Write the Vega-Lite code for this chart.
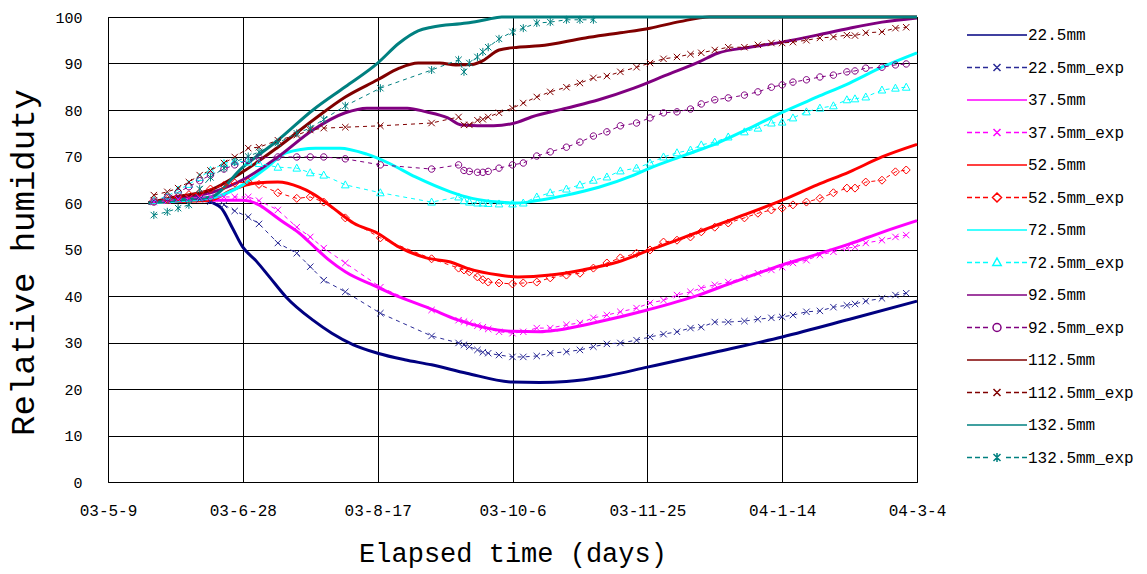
{
  "$schema": "https://vega.github.io/schema/vega-lite/v6.json",
  "width": 809,
  "height": 465,
  "autosize": {"type": "none"},
  "padding": {"left": 108, "top": 17, "right": 230, "bottom": 92},
  "background": "#ffffff",
  "datasets": {
    "model": [
      {"series":"22.5mm","day":15,"rh":60},{"series":"22.5mm","day":25,"rh":60.6},{"series":"22.5mm","day":35,"rh":60.6},{"series":"22.5mm","day":39,"rh":60},{"series":"22.5mm","day":42,"rh":58.9},{"series":"22.5mm","day":46,"rh":54.8},{"series":"22.5mm","day":50,"rh":50.5},{"series":"22.5mm","day":55,"rh":47.5},{"series":"22.5mm","day":60,"rh":44},{"series":"22.5mm","day":66,"rh":39.8},{"series":"22.5mm","day":76,"rh":34.8},{"series":"22.5mm","day":83,"rh":32},{"series":"22.5mm","day":91,"rh":29.5},{"series":"22.5mm","day":100,"rh":27.7},{"series":"22.5mm","day":110,"rh":26.3},{"series":"22.5mm","day":120,"rh":25.2},{"series":"22.5mm","day":133,"rh":23.4},{"series":"22.5mm","day":150,"rh":21.5},{"series":"22.5mm","day":160,"rh":21.4},{"series":"22.5mm","day":170,"rh":21.6},{"series":"22.5mm","day":185,"rh":22.8},{"series":"22.5mm","day":200,"rh":24.7},{"series":"22.5mm","day":225,"rh":27.9},{"series":"22.5mm","day":250,"rh":31.2},{"series":"22.5mm","day":275,"rh":35},{"series":"22.5mm","day":300,"rh":38.9},
      {"series":"37.5mm","day":15,"rh":60},{"series":"37.5mm","day":25,"rh":60.4},{"series":"37.5mm","day":38,"rh":60.6},{"series":"37.5mm","day":50,"rh":60.6},{"series":"37.5mm","day":56,"rh":59.6},{"series":"37.5mm","day":60,"rh":58},{"series":"37.5mm","day":64,"rh":56.3},{"series":"37.5mm","day":71,"rh":53.5},{"series":"37.5mm","day":77,"rh":50.3},{"series":"37.5mm","day":82,"rh":47.7},{"series":"37.5mm","day":88,"rh":45.2},{"series":"37.5mm","day":100,"rh":41.9},{"series":"37.5mm","day":108,"rh":39.8},{"series":"37.5mm","day":119,"rh":37.4},{"series":"37.5mm","day":130,"rh":34.8},{"series":"37.5mm","day":139,"rh":33.3},{"series":"37.5mm","day":150,"rh":32.4},{"series":"37.5mm","day":160,"rh":32.3},{"series":"37.5mm","day":167,"rh":32.7},{"series":"37.5mm","day":180,"rh":34.2},{"series":"37.5mm","day":200,"rh":37},{"series":"37.5mm","day":219,"rh":40.2},{"series":"37.5mm","day":232,"rh":43},{"series":"37.5mm","day":250,"rh":46.7},{"series":"37.5mm","day":262,"rh":48.8},{"series":"37.5mm","day":275,"rh":51.2},{"series":"37.5mm","day":287,"rh":53.7},{"series":"37.5mm","day":300,"rh":56.2},
      {"series":"52.5mm","day":15,"rh":60},{"series":"52.5mm","day":25,"rh":60.3},{"series":"52.5mm","day":38,"rh":60.6},{"series":"52.5mm","day":46,"rh":62.8},{"series":"52.5mm","day":55,"rh":64.3},{"series":"52.5mm","day":63,"rh":64.5},{"series":"52.5mm","day":71,"rh":63.4},{"series":"52.5mm","day":76,"rh":62},{"series":"52.5mm","day":81,"rh":60},{"series":"52.5mm","day":86,"rh":57.8},{"series":"52.5mm","day":91,"rh":55.7},{"series":"52.5mm","day":100,"rh":53.5},{"series":"52.5mm","day":108,"rh":50.5},{"series":"52.5mm","day":118,"rh":48.2},{"series":"52.5mm","day":127,"rh":47.3},{"series":"52.5mm","day":133,"rh":46},{"series":"52.5mm","day":145,"rh":44.5},{"series":"52.5mm","day":152,"rh":44.1},{"series":"52.5mm","day":164,"rh":44.5},{"series":"52.5mm","day":176,"rh":45.6},{"series":"52.5mm","day":189,"rh":47.3},{"series":"52.5mm","day":201,"rh":49.9},{"series":"52.5mm","day":210,"rh":51.8},{"series":"52.5mm","day":219,"rh":53.8},{"series":"52.5mm","day":232,"rh":56.6},{"series":"52.5mm","day":250,"rh":60.6},{"series":"52.5mm","day":263,"rh":63.9},{"series":"52.5mm","day":275,"rh":66.7},{"series":"52.5mm","day":287,"rh":69.9},{"series":"52.5mm","day":300,"rh":72.6},
      {"series":"72.5mm","day":15,"rh":60},{"series":"72.5mm","day":25,"rh":60.4},{"series":"72.5mm","day":38,"rh":61},{"series":"72.5mm","day":50,"rh":63.9},{"series":"72.5mm","day":59,"rh":67.7},{"series":"72.5mm","day":66,"rh":70.8},{"series":"72.5mm","day":77,"rh":71.8},{"series":"72.5mm","day":86,"rh":71.8},{"series":"72.5mm","day":96,"rh":70.5},{"series":"72.5mm","day":104,"rh":68.6},{"series":"72.5mm","day":114,"rh":65.6},{"series":"72.5mm","day":127,"rh":62.4},{"series":"72.5mm","day":135,"rh":61},{"series":"72.5mm","day":145,"rh":60.2},{"series":"72.5mm","day":152,"rh":60},{"series":"72.5mm","day":160,"rh":60.6},{"series":"72.5mm","day":170,"rh":61.7},{"series":"72.5mm","day":182,"rh":63.4},{"series":"72.5mm","day":195,"rh":66},{"series":"72.5mm","day":201,"rh":67.5},{"series":"72.5mm","day":214,"rh":70.3},{"series":"72.5mm","day":226,"rh":72.9},{"series":"72.5mm","day":238,"rh":76.1},{"series":"72.5mm","day":250,"rh":79.5},{"series":"72.5mm","day":263,"rh":82.8},{"series":"72.5mm","day":275,"rh":85.8},{"series":"72.5mm","day":287,"rh":89.2},{"series":"72.5mm","day":300,"rh":92.3},
      {"series":"92.5mm","day":15,"rh":60},{"series":"92.5mm","day":25,"rh":61},{"series":"92.5mm","day":38,"rh":62.2},{"series":"92.5mm","day":50,"rh":65},{"series":"92.5mm","day":63,"rh":69.9},{"series":"92.5mm","day":76,"rh":75.7},{"series":"92.5mm","day":88,"rh":79.4},{"series":"92.5mm","day":96,"rh":80.4},{"series":"92.5mm","day":111,"rh":80.4},{"series":"92.5mm","day":118,"rh":79.6},{"series":"92.5mm","day":126,"rh":78.3},{"series":"92.5mm","day":131,"rh":76.8},{"series":"92.5mm","day":143,"rh":76.6},{"series":"92.5mm","day":152,"rh":77.4},{"series":"92.5mm","day":157,"rh":78.5},{"series":"92.5mm","day":170,"rh":80.4},{"series":"92.5mm","day":182,"rh":82.2},{"series":"92.5mm","day":195,"rh":84.7},{"series":"92.5mm","day":207,"rh":87.5},{"series":"92.5mm","day":219,"rh":90.3},{"series":"92.5mm","day":226,"rh":92.2},{"series":"92.5mm","day":238,"rh":93.5},{"series":"92.5mm","day":250,"rh":94.6},{"series":"92.5mm","day":263,"rh":96.1},{"series":"92.5mm","day":275,"rh":97.6},{"series":"92.5mm","day":287,"rh":98.9},{"series":"92.5mm","day":300,"rh":99.8},
      {"series":"112.5mm","day":15,"rh":60},{"series":"112.5mm","day":25,"rh":61.3},{"series":"112.5mm","day":38,"rh":62.8},{"series":"112.5mm","day":50,"rh":66.7},{"series":"112.5mm","day":63,"rh":72},{"series":"112.5mm","day":76,"rh":77.8},{"series":"112.5mm","day":88,"rh":82.8},{"series":"112.5mm","day":100,"rh":86.5},{"series":"112.5mm","day":108,"rh":89},{"series":"112.5mm","day":115,"rh":90.1},{"series":"112.5mm","day":123,"rh":90.1},{"series":"112.5mm","day":129,"rh":89.7},{"series":"112.5mm","day":135,"rh":89.8},{"series":"112.5mm","day":139,"rh":90.6},{"series":"112.5mm","day":145,"rh":92.9},{"series":"112.5mm","day":152,"rh":93.5},{"series":"112.5mm","day":160,"rh":93.8},{"series":"112.5mm","day":177,"rh":95.5},{"series":"112.5mm","day":190,"rh":96.6},{"series":"112.5mm","day":201,"rh":97.6},{"series":"112.5mm","day":212,"rh":99},{"series":"112.5mm","day":223,"rh":100},{"series":"112.5mm","day":300,"rh":100},
      {"series":"132.5mm","day":15,"rh":60},{"series":"132.5mm","day":25,"rh":60.6},{"series":"132.5mm","day":38,"rh":61.3},{"series":"132.5mm","day":50,"rh":67.7},{"series":"132.5mm","day":63,"rh":73.5},{"series":"132.5mm","day":76,"rh":80},{"series":"132.5mm","day":88,"rh":85},{"series":"132.5mm","day":100,"rh":90.1},{"series":"132.5mm","day":108,"rh":94.4},{"series":"132.5mm","day":115,"rh":97},{"series":"132.5mm","day":120,"rh":97.8},{"series":"132.5mm","day":133,"rh":98.7},{"series":"132.5mm","day":140,"rh":99.4},{"series":"132.5mm","day":146,"rh":100},{"series":"132.5mm","day":300,"rh":100}
    ],
    "exp": [
      {"series":"22.5mm_exp","day":17,"rh":60.5},{"series":"22.5mm_exp","day":22,"rh":60.8},{"series":"22.5mm_exp","day":26,"rh":61},{"series":"22.5mm_exp","day":30,"rh":61},{"series":"22.5mm_exp","day":34,"rh":60.8},{"series":"22.5mm_exp","day":38,"rh":60.3},{"series":"22.5mm_exp","day":43,"rh":59.6},{"series":"22.5mm_exp","day":47,"rh":58.3},{"series":"22.5mm_exp","day":52,"rh":57},{"series":"22.5mm_exp","day":56,"rh":55.5},{"series":"22.5mm_exp","day":63,"rh":51.4},{"series":"22.5mm_exp","day":70,"rh":49.2},{"series":"22.5mm_exp","day":75,"rh":46.3},{"series":"22.5mm_exp","day":80,"rh":43.4},{"series":"22.5mm_exp","day":88,"rh":40.9},{"series":"22.5mm_exp","day":101,"rh":36.3},{"series":"22.5mm_exp","day":120,"rh":31.4},{"series":"22.5mm_exp","day":130,"rh":29.9},{"series":"22.5mm_exp","day":132,"rh":29.5},{"series":"22.5mm_exp","day":134,"rh":29.1},{"series":"22.5mm_exp","day":137,"rh":28.4},{"series":"22.5mm_exp","day":139,"rh":27.9},{"series":"22.5mm_exp","day":141,"rh":27.7},{"series":"22.5mm_exp","day":145,"rh":27.3},{"series":"22.5mm_exp","day":150,"rh":26.9},{"series":"22.5mm_exp","day":154,"rh":26.9},{"series":"22.5mm_exp","day":159,"rh":27.1},{"series":"22.5mm_exp","day":164,"rh":27.7},{"series":"22.5mm_exp","day":170,"rh":28},{"series":"22.5mm_exp","day":175,"rh":28.4},{"series":"22.5mm_exp","day":180,"rh":29.1},{"series":"22.5mm_exp","day":185,"rh":29.7},{"series":"22.5mm_exp","day":190,"rh":29.9},{"series":"22.5mm_exp","day":196,"rh":30.5},{"series":"22.5mm_exp","day":201,"rh":31.2},{"series":"22.5mm_exp","day":206,"rh":31.8},{"series":"22.5mm_exp","day":211,"rh":32.3},{"series":"22.5mm_exp","day":216,"rh":33.1},{"series":"22.5mm_exp","day":220,"rh":33.3},{"series":"22.5mm_exp","day":225,"rh":34.4},{"series":"22.5mm_exp","day":230,"rh":34.4},{"series":"22.5mm_exp","day":236,"rh":34.6},{"series":"22.5mm_exp","day":241,"rh":35},{"series":"22.5mm_exp","day":246,"rh":35.3},{"series":"22.5mm_exp","day":250,"rh":35.5},{"series":"22.5mm_exp","day":254,"rh":35.9},{"series":"22.5mm_exp","day":259,"rh":36.6},{"series":"22.5mm_exp","day":264,"rh":36.8},{"series":"22.5mm_exp","day":269,"rh":37.6},{"series":"22.5mm_exp","day":274,"rh":38},{"series":"22.5mm_exp","day":277,"rh":38.3},{"series":"22.5mm_exp","day":281,"rh":38.9},{"series":"22.5mm_exp","day":287,"rh":39.5},{"series":"22.5mm_exp","day":292,"rh":40.2},{"series":"22.5mm_exp","day":296,"rh":40.6},
      {"series":"37.5mm_exp","day":17,"rh":60.2},{"series":"37.5mm_exp","day":22,"rh":60.5},{"series":"37.5mm_exp","day":26,"rh":60.8},{"series":"37.5mm_exp","day":30,"rh":61},{"series":"37.5mm_exp","day":34,"rh":61.2},{"series":"37.5mm_exp","day":38,"rh":61.3},{"series":"37.5mm_exp","day":43,"rh":61.3},{"series":"37.5mm_exp","day":47,"rh":61.3},{"series":"37.5mm_exp","day":52,"rh":61.3},{"series":"37.5mm_exp","day":56,"rh":60.5},{"series":"37.5mm_exp","day":63,"rh":58.5},{"series":"37.5mm_exp","day":70,"rh":54.8},{"series":"37.5mm_exp","day":75,"rh":52.7},{"series":"37.5mm_exp","day":80,"rh":50.3},{"series":"37.5mm_exp","day":88,"rh":47.1},{"series":"37.5mm_exp","day":101,"rh":41.9},{"series":"37.5mm_exp","day":120,"rh":37},{"series":"37.5mm_exp","day":130,"rh":34.8},{"series":"37.5mm_exp","day":132,"rh":34.5},{"series":"37.5mm_exp","day":134,"rh":34.2},{"series":"37.5mm_exp","day":137,"rh":33.6},{"series":"37.5mm_exp","day":139,"rh":33.3},{"series":"37.5mm_exp","day":141,"rh":32.9},{"series":"37.5mm_exp","day":145,"rh":32.3},{"series":"37.5mm_exp","day":150,"rh":32},{"series":"37.5mm_exp","day":154,"rh":32.3},{"series":"37.5mm_exp","day":159,"rh":33.1},{"series":"37.5mm_exp","day":164,"rh":33.1},{"series":"37.5mm_exp","day":170,"rh":33.8},{"series":"37.5mm_exp","day":175,"rh":34.2},{"series":"37.5mm_exp","day":180,"rh":35.3},{"series":"37.5mm_exp","day":185,"rh":35.9},{"series":"37.5mm_exp","day":190,"rh":36.6},{"series":"37.5mm_exp","day":196,"rh":37.4},{"series":"37.5mm_exp","day":201,"rh":38.5},{"series":"37.5mm_exp","day":206,"rh":39.1},{"series":"37.5mm_exp","day":211,"rh":40.2},{"series":"37.5mm_exp","day":216,"rh":40.9},{"series":"37.5mm_exp","day":220,"rh":41.7},{"series":"37.5mm_exp","day":225,"rh":42.4},{"series":"37.5mm_exp","day":230,"rh":43},{"series":"37.5mm_exp","day":236,"rh":43.9},{"series":"37.5mm_exp","day":241,"rh":44.9},{"series":"37.5mm_exp","day":246,"rh":45.6},{"series":"37.5mm_exp","day":250,"rh":46.2},{"series":"37.5mm_exp","day":254,"rh":47.1},{"series":"37.5mm_exp","day":259,"rh":47.7},{"series":"37.5mm_exp","day":264,"rh":48.8},{"series":"37.5mm_exp","day":269,"rh":49.5},{"series":"37.5mm_exp","day":274,"rh":50.3},{"series":"37.5mm_exp","day":277,"rh":50.5},{"series":"37.5mm_exp","day":281,"rh":51.4},{"series":"37.5mm_exp","day":287,"rh":52},{"series":"37.5mm_exp","day":292,"rh":52.7},{"series":"37.5mm_exp","day":296,"rh":53.1},
      {"series":"52.5mm_exp","day":17,"rh":60.5},{"series":"52.5mm_exp","day":22,"rh":60.8},{"series":"52.5mm_exp","day":26,"rh":61.3},{"series":"52.5mm_exp","day":30,"rh":61.8},{"series":"52.5mm_exp","day":34,"rh":62.2},{"series":"52.5mm_exp","day":38,"rh":63},{"series":"52.5mm_exp","day":43,"rh":63.8},{"series":"52.5mm_exp","day":47,"rh":64.3},{"series":"52.5mm_exp","day":52,"rh":64.5},{"series":"52.5mm_exp","day":56,"rh":64},{"series":"52.5mm_exp","day":63,"rh":62.2},{"series":"52.5mm_exp","day":70,"rh":61},{"series":"52.5mm_exp","day":75,"rh":61.3},{"series":"52.5mm_exp","day":80,"rh":60.2},{"series":"52.5mm_exp","day":88,"rh":56.8},{"series":"52.5mm_exp","day":101,"rh":52.5},{"series":"52.5mm_exp","day":120,"rh":48},{"series":"52.5mm_exp","day":130,"rh":46},{"series":"52.5mm_exp","day":132,"rh":45.6},{"series":"52.5mm_exp","day":134,"rh":45.2},{"series":"52.5mm_exp","day":137,"rh":44.1},{"series":"52.5mm_exp","day":139,"rh":43.5},{"series":"52.5mm_exp","day":141,"rh":43},{"series":"52.5mm_exp","day":145,"rh":42.8},{"series":"52.5mm_exp","day":150,"rh":42.6},{"series":"52.5mm_exp","day":154,"rh":42.8},{"series":"52.5mm_exp","day":159,"rh":43},{"series":"52.5mm_exp","day":164,"rh":43.9},{"series":"52.5mm_exp","day":170,"rh":44.5},{"series":"52.5mm_exp","day":175,"rh":44.9},{"series":"52.5mm_exp","day":180,"rh":46},{"series":"52.5mm_exp","day":185,"rh":47.1},{"series":"52.5mm_exp","day":190,"rh":48.2},{"series":"52.5mm_exp","day":196,"rh":49.2},{"series":"52.5mm_exp","day":201,"rh":49.9},{"series":"52.5mm_exp","day":206,"rh":51.6},{"series":"52.5mm_exp","day":211,"rh":52},{"series":"52.5mm_exp","day":216,"rh":52.7},{"series":"52.5mm_exp","day":220,"rh":53.8},{"series":"52.5mm_exp","day":225,"rh":54.8},{"series":"52.5mm_exp","day":230,"rh":55.7},{"series":"52.5mm_exp","day":236,"rh":56.8},{"series":"52.5mm_exp","day":241,"rh":57.8},{"series":"52.5mm_exp","day":246,"rh":58.5},{"series":"52.5mm_exp","day":250,"rh":58.9},{"series":"52.5mm_exp","day":254,"rh":59.6},{"series":"52.5mm_exp","day":259,"rh":60.2},{"series":"52.5mm_exp","day":264,"rh":61},{"series":"52.5mm_exp","day":269,"rh":62.2},{"series":"52.5mm_exp","day":274,"rh":63.2},{"series":"52.5mm_exp","day":277,"rh":63.2},{"series":"52.5mm_exp","day":281,"rh":64.5},{"series":"52.5mm_exp","day":287,"rh":64.9},{"series":"52.5mm_exp","day":292,"rh":66.7},{"series":"52.5mm_exp","day":296,"rh":67.1},
      {"series":"72.5mm_exp","day":17,"rh":60.5},{"series":"72.5mm_exp","day":22,"rh":61.5},{"series":"72.5mm_exp","day":26,"rh":62.8},{"series":"72.5mm_exp","day":30,"rh":64},{"series":"72.5mm_exp","day":34,"rh":65.5},{"series":"72.5mm_exp","day":38,"rh":67},{"series":"72.5mm_exp","day":43,"rh":68.5},{"series":"72.5mm_exp","day":47,"rh":69},{"series":"72.5mm_exp","day":52,"rh":68.8},{"series":"72.5mm_exp","day":56,"rh":68.5},{"series":"72.5mm_exp","day":63,"rh":67.7},{"series":"72.5mm_exp","day":70,"rh":67.5},{"series":"72.5mm_exp","day":75,"rh":66.5},{"series":"72.5mm_exp","day":80,"rh":66},{"series":"72.5mm_exp","day":88,"rh":63.9},{"series":"72.5mm_exp","day":101,"rh":62.2},{"series":"72.5mm_exp","day":120,"rh":60.2},{"series":"72.5mm_exp","day":130,"rh":61.3},{"series":"72.5mm_exp","day":132,"rh":60.5},{"series":"72.5mm_exp","day":134,"rh":60.2},{"series":"72.5mm_exp","day":137,"rh":60},{"series":"72.5mm_exp","day":139,"rh":60},{"series":"72.5mm_exp","day":141,"rh":59.9},{"series":"72.5mm_exp","day":145,"rh":59.8},{"series":"72.5mm_exp","day":150,"rh":59.8},{"series":"72.5mm_exp","day":154,"rh":60},{"series":"72.5mm_exp","day":159,"rh":61.3},{"series":"72.5mm_exp","day":164,"rh":62.2},{"series":"72.5mm_exp","day":170,"rh":63},{"series":"72.5mm_exp","day":175,"rh":63.9},{"series":"72.5mm_exp","day":180,"rh":64.9},{"series":"72.5mm_exp","day":185,"rh":65.6},{"series":"72.5mm_exp","day":190,"rh":66.9},{"series":"72.5mm_exp","day":196,"rh":67.5},{"series":"72.5mm_exp","day":201,"rh":68.6},{"series":"72.5mm_exp","day":206,"rh":69.9},{"series":"72.5mm_exp","day":211,"rh":70.8},{"series":"72.5mm_exp","day":216,"rh":71.4},{"series":"72.5mm_exp","day":220,"rh":72.5},{"series":"72.5mm_exp","day":225,"rh":73.1},{"series":"72.5mm_exp","day":230,"rh":74.2},{"series":"72.5mm_exp","day":236,"rh":75.3},{"series":"72.5mm_exp","day":241,"rh":76.1},{"series":"72.5mm_exp","day":246,"rh":77.2},{"series":"72.5mm_exp","day":250,"rh":77.4},{"series":"72.5mm_exp","day":254,"rh":78.3},{"series":"72.5mm_exp","day":259,"rh":79.6},{"series":"72.5mm_exp","day":264,"rh":80.4},{"series":"72.5mm_exp","day":269,"rh":80.9},{"series":"72.5mm_exp","day":274,"rh":82.2},{"series":"72.5mm_exp","day":277,"rh":82.4},{"series":"72.5mm_exp","day":281,"rh":82.8},{"series":"72.5mm_exp","day":287,"rh":84.3},{"series":"72.5mm_exp","day":292,"rh":84.7},{"series":"72.5mm_exp","day":296,"rh":84.9},
      {"series":"92.5mm_exp","day":17,"rh":60.2},{"series":"92.5mm_exp","day":22,"rh":61.2},{"series":"92.5mm_exp","day":26,"rh":62.3},{"series":"92.5mm_exp","day":30,"rh":63.5},{"series":"92.5mm_exp","day":34,"rh":64.8},{"series":"92.5mm_exp","day":38,"rh":66},{"series":"92.5mm_exp","day":43,"rh":67.3},{"series":"92.5mm_exp","day":47,"rh":68.2},{"series":"92.5mm_exp","day":52,"rh":69.2},{"series":"92.5mm_exp","day":56,"rh":69.7},{"series":"92.5mm_exp","day":63,"rh":69.9},{"series":"92.5mm_exp","day":70,"rh":69.9},{"series":"92.5mm_exp","day":75,"rh":69.9},{"series":"92.5mm_exp","day":80,"rh":69.9},{"series":"92.5mm_exp","day":88,"rh":69.5},{"series":"92.5mm_exp","day":101,"rh":68.2},{"series":"92.5mm_exp","day":120,"rh":67.3},{"series":"92.5mm_exp","day":130,"rh":68.2},{"series":"92.5mm_exp","day":132,"rh":67},{"series":"92.5mm_exp","day":134,"rh":66.8},{"series":"92.5mm_exp","day":137,"rh":66.6},{"series":"92.5mm_exp","day":139,"rh":66.6},{"series":"92.5mm_exp","day":141,"rh":66.8},{"series":"92.5mm_exp","day":145,"rh":67.5},{"series":"92.5mm_exp","day":150,"rh":68.2},{"series":"92.5mm_exp","day":154,"rh":68.6},{"series":"92.5mm_exp","day":159,"rh":70.1},{"series":"92.5mm_exp","day":164,"rh":71},{"series":"92.5mm_exp","day":170,"rh":72},{"series":"92.5mm_exp","day":175,"rh":73.1},{"series":"92.5mm_exp","day":180,"rh":74.4},{"series":"92.5mm_exp","day":185,"rh":75.3},{"series":"92.5mm_exp","day":190,"rh":76.6},{"series":"92.5mm_exp","day":196,"rh":77.2},{"series":"92.5mm_exp","day":201,"rh":78.3},{"series":"92.5mm_exp","day":206,"rh":79.4},{"series":"92.5mm_exp","day":211,"rh":79.6},{"series":"92.5mm_exp","day":216,"rh":80.2},{"series":"92.5mm_exp","day":220,"rh":81.3},{"series":"92.5mm_exp","day":225,"rh":82.2},{"series":"92.5mm_exp","day":230,"rh":82.6},{"series":"92.5mm_exp","day":236,"rh":83.2},{"series":"92.5mm_exp","day":241,"rh":83.9},{"series":"92.5mm_exp","day":246,"rh":84.9},{"series":"92.5mm_exp","day":250,"rh":85.4},{"series":"92.5mm_exp","day":254,"rh":86},{"series":"92.5mm_exp","day":259,"rh":86.5},{"series":"92.5mm_exp","day":264,"rh":87.1},{"series":"92.5mm_exp","day":269,"rh":87.5},{"series":"92.5mm_exp","day":274,"rh":88.2},{"series":"92.5mm_exp","day":277,"rh":88.4},{"series":"92.5mm_exp","day":281,"rh":89},{"series":"92.5mm_exp","day":287,"rh":89.2},{"series":"92.5mm_exp","day":292,"rh":89.7},{"series":"92.5mm_exp","day":296,"rh":89.9},
      {"series":"112.5mm_exp","day":17,"rh":61.7},{"series":"112.5mm_exp","day":22,"rh":62.4},{"series":"112.5mm_exp","day":26,"rh":63.2},{"series":"112.5mm_exp","day":30,"rh":64.5},{"series":"112.5mm_exp","day":34,"rh":66},{"series":"112.5mm_exp","day":38,"rh":67},{"series":"112.5mm_exp","day":43,"rh":68.6},{"series":"112.5mm_exp","day":47,"rh":69.9},{"series":"112.5mm_exp","day":52,"rh":71.8},{"series":"112.5mm_exp","day":56,"rh":72},{"series":"112.5mm_exp","day":63,"rh":73.5},{"series":"112.5mm_exp","day":70,"rh":74.6},{"series":"112.5mm_exp","day":75,"rh":75.7},{"series":"112.5mm_exp","day":80,"rh":76.1},{"series":"112.5mm_exp","day":88,"rh":76.3},{"series":"112.5mm_exp","day":101,"rh":76.6},{"series":"112.5mm_exp","day":120,"rh":77.2},{"series":"112.5mm_exp","day":130,"rh":78.5},{"series":"112.5mm_exp","day":132,"rh":76.8},{"series":"112.5mm_exp","day":134,"rh":76.8},{"series":"112.5mm_exp","day":137,"rh":77.8},{"series":"112.5mm_exp","day":139,"rh":78},{"series":"112.5mm_exp","day":141,"rh":78.5},{"series":"112.5mm_exp","day":145,"rh":79.4},{"series":"112.5mm_exp","day":150,"rh":80.4},{"series":"112.5mm_exp","day":154,"rh":81.5},{"series":"112.5mm_exp","day":159,"rh":82.8},{"series":"112.5mm_exp","day":164,"rh":83.9},{"series":"112.5mm_exp","day":170,"rh":84.9},{"series":"112.5mm_exp","day":175,"rh":85.8},{"series":"112.5mm_exp","day":180,"rh":86.9},{"series":"112.5mm_exp","day":185,"rh":87.3},{"series":"112.5mm_exp","day":190,"rh":88.2},{"series":"112.5mm_exp","day":196,"rh":89.2},{"series":"112.5mm_exp","day":201,"rh":90.1},{"series":"112.5mm_exp","day":206,"rh":91},{"series":"112.5mm_exp","day":211,"rh":91.4},{"series":"112.5mm_exp","day":216,"rh":92},{"series":"112.5mm_exp","day":220,"rh":92.3},{"series":"112.5mm_exp","day":225,"rh":92.9},{"series":"112.5mm_exp","day":230,"rh":93.5},{"series":"112.5mm_exp","day":236,"rh":93.5},{"series":"112.5mm_exp","day":241,"rh":94},{"series":"112.5mm_exp","day":246,"rh":94.4},{"series":"112.5mm_exp","day":250,"rh":94.4},{"series":"112.5mm_exp","day":254,"rh":94.6},{"series":"112.5mm_exp","day":259,"rh":95},{"series":"112.5mm_exp","day":264,"rh":95.5},{"series":"112.5mm_exp","day":269,"rh":95.7},{"series":"112.5mm_exp","day":274,"rh":96.1},{"series":"112.5mm_exp","day":277,"rh":96},{"series":"112.5mm_exp","day":281,"rh":96.6},{"series":"112.5mm_exp","day":287,"rh":96.8},{"series":"112.5mm_exp","day":292,"rh":97.6},{"series":"112.5mm_exp","day":296,"rh":97.8},
      {"series":"132.5mm_exp","day":17,"rh":57.4},{"series":"132.5mm_exp","day":22,"rh":58.1},{"series":"132.5mm_exp","day":26,"rh":58.9},{"series":"132.5mm_exp","day":30,"rh":59.6},{"series":"132.5mm_exp","day":34,"rh":63},{"series":"132.5mm_exp","day":38,"rh":65.5},{"series":"132.5mm_exp","day":43,"rh":67.5},{"series":"132.5mm_exp","day":47,"rh":68.8},{"series":"132.5mm_exp","day":52,"rh":70},{"series":"132.5mm_exp","day":56,"rh":71},{"series":"132.5mm_exp","day":63,"rh":72.9},{"series":"132.5mm_exp","day":70,"rh":75},{"series":"132.5mm_exp","day":75,"rh":76.1},{"series":"132.5mm_exp","day":80,"rh":78},{"series":"132.5mm_exp","day":88,"rh":80.9},{"series":"132.5mm_exp","day":101,"rh":84.7},{"series":"132.5mm_exp","day":120,"rh":88.6},{"series":"132.5mm_exp","day":130,"rh":90.8},{"series":"132.5mm_exp","day":132,"rh":88.2},{"series":"132.5mm_exp","day":134,"rh":90.1},{"series":"132.5mm_exp","day":137,"rh":91.4},{"series":"132.5mm_exp","day":139,"rh":92.5},{"series":"132.5mm_exp","day":141,"rh":93.5},{"series":"132.5mm_exp","day":145,"rh":95.3},{"series":"132.5mm_exp","day":150,"rh":96.8},{"series":"132.5mm_exp","day":154,"rh":97.6},{"series":"132.5mm_exp","day":159,"rh":98.7},{"series":"132.5mm_exp","day":164,"rh":98.9},{"series":"132.5mm_exp","day":170,"rh":99.4},{"series":"132.5mm_exp","day":175,"rh":99.4},{"series":"132.5mm_exp","day":180,"rh":99.4}
    ]
  },
  "resolve": {"scale": {"color": "independent", "shape": "independent"}},
  "layer": [
    {
      "data": {"name": "model"},
      "mark": {"type": "line", "strokeWidth": 3, "interpolate": "monotone"},
      "encoding": {
        "x": {
          "field": "day", "type": "quantitative",
          "scale": {"domain": [0, 300], "nice": false, "zero": false},
          "axis": {
            "values": [0, 50, 100, 150, 200, 250, 300],
            "labelExpr": "timeFormat(datetime(2003, 4, 9 + datum.value), '%y-%-m-%-d')",
            "title": "Elapsed time (days)",
            "labelFontSize": 16, "labelPadding": 20,
            "titleFontSize": 27, "titlePadding": 22
          }
        },
        "y": {
          "field": "rh", "type": "quantitative",
          "scale": {"domain": [0, 100], "nice": false},
          "axis": {
            "values": [0, 10, 20, 30, 40, 50, 60, 70, 80, 90, 100],
            "title": "Relative humiduty",
            "labelFontSize": 15, "labelPadding": 26,
            "titleFontSize": 34, "titlePadding": 14, "titleY": 245
          }
        },
        "color": {
          "field": "series", "type": "nominal", "legend": null,
          "scale": {
            "domain": ["22.5mm","22.5mm_exp","37.5mm","37.5mm_exp","52.5mm","52.5mm_exp","72.5mm","72.5mm_exp","92.5mm","92.5mm_exp","112.5mm","112.5mm_exp","132.5mm","132.5mm_exp"],
            "range": ["#000080","#2a2a96","#ff00ff","#ff00ff","#ff0000","#ff0000","#00ffff","#00ffff","#800080","#800080","#800000","#800000","#008080","#008080"]
          }
        }
      }
    },
    {
      "data": {"name": "exp"},
      "mark": {"type": "line", "strokeWidth": 1, "strokeDash": [4, 4]},
      "encoding": {
        "x": {"field": "day", "type": "quantitative"},
        "y": {"field": "rh", "type": "quantitative"},
        "color": {
          "field": "series", "type": "nominal", "legend": null,
          "scale": {
            "domain": ["22.5mm","22.5mm_exp","37.5mm","37.5mm_exp","52.5mm","52.5mm_exp","72.5mm","72.5mm_exp","92.5mm","92.5mm_exp","112.5mm","112.5mm_exp","132.5mm","132.5mm_exp"],
            "range": ["#000080","#2a2a96","#ff00ff","#ff00ff","#ff0000","#ff0000","#00ffff","#00ffff","#800080","#800080","#800000","#800000","#008080","#008080"]
          }
        }
      }
    },
    {
      "data": {"name": "exp"},
      "mark": {"type": "point", "filled": false, "size": 64, "strokeWidth": 1, "opacity": 1},
      "encoding": {
        "x": {"field": "day", "type": "quantitative"},
        "y": {"field": "rh", "type": "quantitative"},
        "color": {
          "field": "series", "type": "nominal", "legend": null,
          "scale": {
            "domain": ["22.5mm","22.5mm_exp","37.5mm","37.5mm_exp","52.5mm","52.5mm_exp","72.5mm","72.5mm_exp","92.5mm","92.5mm_exp","112.5mm","112.5mm_exp","132.5mm","132.5mm_exp"],
            "range": ["#000080","#2a2a96","#ff00ff","#ff00ff","#ff0000","#ff0000","#00ffff","#00ffff","#800080","#800080","#800000","#800000","#008080","#008080"]
          }
        },
        "shape": {
          "field": "series", "type": "nominal", "legend": null,
          "scale": {
            "domain": ["22.5mm_exp","37.5mm_exp","52.5mm_exp","72.5mm_exp","92.5mm_exp","112.5mm_exp","132.5mm_exp"],
            "range": [
              "M-0.8,-0.8L0.8,0.8M-0.8,0.8L0.8,-0.8",
              "M-0.8,-0.8L0.8,0.8M-0.8,0.8L0.8,-0.8",
              "M0,-1L1,0L0,1L-1,0Z",
              "M0,-1L0.95,0.75L-0.95,0.75Z",
              "M-0.8,0A0.8,0.8 0 1 0 0.8,0A0.8,0.8 0 1 0 -0.8,0Z",
              "M-0.8,-0.8L0.8,0.8M-0.8,0.8L0.8,-0.8",
              "M-0.8,-0.8L0.8,0.8M-0.8,0.8L0.8,-0.8M0,-1V1"
            ]
          }
        }
      }
    },
    {
      "data": {"values": []},
      "mark": {"type": "point", "filled": false, "opacity": 1},
      "encoding": {
        "color": {
          "field": "series", "type": "nominal",
          "scale": {
            "domain": ["22.5mm","22.5mm_exp","37.5mm","37.5mm_exp","52.5mm","52.5mm_exp","72.5mm","72.5mm_exp","92.5mm","92.5mm_exp","112.5mm","112.5mm_exp","132.5mm","132.5mm_exp"],
            "range": ["#000080","#2a2a96","#ff00ff","#ff00ff","#ff0000","#ff0000","#00ffff","#00ffff","#800080","#800080","#800000","#800000","#008080","#008080"]
          },
          "legend": {
            "title": null, "orient": "none", "legendX": 858, "legendY": 7,
            "direction": "vertical", "columns": 1, "padding": 0,
            "labelFont": "Liberation Mono", "labelFontSize": 16, "labelColor": "#000000",
            "labelOffset": 40, "labelLimit": 220,
            "symbolSize": 400, "symbolOpacity": 1, "rowPadding": 13.5,
            "encode": {"symbols": {"strokeWidth": {"condition": {"test": "indexof(datum.value, 'exp') < 0", "value": 3}, "value": 1.2}}}
          }
        },
        "shape": {
          "field": "series", "type": "nominal",
          "scale": {
            "domain": ["22.5mm","22.5mm_exp","37.5mm","37.5mm_exp","52.5mm","52.5mm_exp","72.5mm","72.5mm_exp","92.5mm","92.5mm_exp","112.5mm","112.5mm_exp","132.5mm","132.5mm_exp"],
            "range": [
              "M-1,0H5",
              "M-1,0H-0.5M-0.2,0H0.3M0.6,0H1.1M2.9,0H3.4M3.7,0H4.2M4.5,0H5M1.65,-0.35L2.35,0.35M1.65,0.35L2.35,-0.35",
              "M-1,0H5",
              "M-1,0H-0.5M-0.2,0H0.3M0.6,0H1.1M2.9,0H3.4M3.7,0H4.2M4.5,0H5M1.65,-0.35L2.35,0.35M1.65,0.35L2.35,-0.35",
              "M-1,0H5",
              "M-1,0H-0.5M-0.2,0H0.3M0.6,0H1.1M2.9,0H3.4M3.7,0H4.2M4.5,0H5M2,-0.45L2.45,0L2,0.45L1.55,0Z",
              "M-1,0H5",
              "M-1,0H-0.5M-0.2,0H0.3M0.6,0H1.1M2.9,0H3.4M3.7,0H4.2M4.5,0H5M2,-0.45L2.42,0.3L1.58,0.3Z",
              "M-1,0H5",
              "M-1,0H-0.5M-0.2,0H0.3M0.6,0H1.1M2.9,0H3.4M3.7,0H4.2M4.5,0H5M1.6,0A0.4,0.4 0 1 0 2.4,0A0.4,0.4 0 1 0 1.6,0Z",
              "M-1,0H5",
              "M-1,0H-0.5M-0.2,0H0.3M0.6,0H1.1M2.9,0H3.4M3.7,0H4.2M4.5,0H5M1.65,-0.35L2.35,0.35M1.65,0.35L2.35,-0.35",
              "M-1,0H5",
              "M-1,0H-0.5M-0.2,0H0.3M0.6,0H1.1M2.9,0H3.4M3.7,0H4.2M4.5,0H5M1.65,-0.35L2.35,0.35M1.65,0.35L2.35,-0.35M2,-0.45V0.45"
            ]
          },
          "legend": {
            "title": null, "orient": "none", "legendX": 858, "legendY": 7,
            "direction": "vertical", "columns": 1, "padding": 0,
            "labelFont": "Liberation Mono", "labelFontSize": 16, "labelColor": "#000000",
            "labelOffset": 40, "labelLimit": 220,
            "symbolSize": 400, "symbolOpacity": 1, "rowPadding": 13.5,
            "encode": {"symbols": {"strokeWidth": {"condition": {"test": "indexof(datum.value, 'exp') < 0", "value": 3}, "value": 1.2}}}
          }
        }
      }
    }
  ],
  "config": {
    "view": {"stroke": "#000000", "strokeWidth": 1},
    "axis": {
      "grid": true, "gridColor": "#000000", "gridOpacity": 1, "gridWidth": 1,
      "domain": false, "ticks": false,
      "labelFont": "Liberation Mono", "labelColor": "#000000",
      "titleFont": "Liberation Mono", "titleColor": "#000000", "titleFontWeight": "normal",
      "labelFlush": false, "labelOverlap": false
    }
  }
}
